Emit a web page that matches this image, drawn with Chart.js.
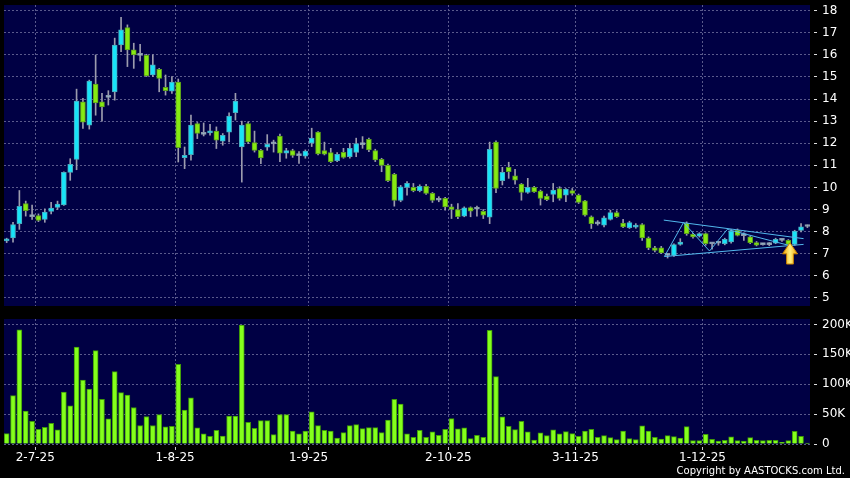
<!DOCTYPE html>
<html><head><meta charset="utf-8">
<script src="https://cdn.jsdelivr.net/npm/chart.js@4.4.0/dist/chart.umd.min.js"></script>
<style>
html,body{margin:0;padding:0;background:#000;width:850px;height:478px;overflow:hidden}
#pc{position:absolute;left:0;top:0}
#vc{position:absolute;left:0;top:308px}
#copy{position:absolute;right:5px;top:465px;color:#fff;font:10px "DejaVu Sans";line-height:12px;white-space:nowrap}
</style></head><body>
<canvas id="pc" width="850" height="308"></canvas>
<canvas id="vc" width="850" height="170"></canvas>
<div id="copy">Copyright by AASTOCKS.com Ltd.</div>
<script>
// ---- data (one entry per trading day, 25-6-25 .. 23-12-25) ----
const openP = [7.58,7.71,8.36,9.27,8.70,8.73,8.55,8.91,9.09,9.21,10.68,11.27,13.88,12.82,14.68,13.88,14.10,14.32,16.45,17.24,
16.23,16.00,15.98,15.09,15.35,14.53,14.36,14.77,11.35,11.48,12.89,12.42,12.47,12.55,12.09,12.50,13.38,11.83,12.89,12.03,
11.68,11.82,11.98,12.33,11.55,11.67,11.45,11.41,12.00,12.50,11.67,11.58,11.21,11.59,11.39,11.58,11.95,12.18,11.67,11.27,
11.00,10.59,9.41,10.00,10.00,9.85,10.05,9.73,9.43,9.50,9.12,9.00,8.70,9.09,9.03,8.92,8.65,12.05,10.30,10.91,
10.52,10.15,9.77,10.00,9.83,9.61,9.68,9.95,9.65,9.86,9.65,9.39,8.67,8.37,8.29,8.55,8.86,8.39,8.18,8.20,
8.32,7.71,7.26,7.26,6.93,6.92,7.42,8.39,7.88,7.79,7.91,7.46,7.47,7.45,7.53,8.06,7.84,7.76,7.50,7.43,
7.41,7.48,7.60,7.60,7.42,8.05,8.23];
const highP = [7.70,8.42,9.86,9.38,9.20,8.80,9.03,9.33,9.38,10.70,11.30,14.45,14.03,14.86,16.00,14.26,14.38,16.76,17.70,17.36,
16.53,16.48,16.03,16.00,15.39,15.09,15.02,14.91,11.83,13.27,12.94,12.92,12.86,12.74,12.44,13.38,14.26,13.00,12.97,12.55,
11.73,12.39,12.14,12.42,11.77,11.73,11.62,11.70,12.68,12.53,12.05,11.77,11.58,11.77,12.00,12.23,12.30,12.23,11.73,11.32,
11.06,10.64,10.09,10.26,10.18,10.12,10.14,9.77,9.58,9.55,9.24,9.27,9.12,9.12,9.15,9.00,12.05,12.11,10.91,11.14,
10.82,10.18,10.41,10.05,9.88,9.70,10.18,10.03,9.95,9.95,9.70,9.42,8.71,8.50,8.70,8.97,8.94,8.55,8.47,8.36,
8.36,7.76,7.33,7.33,7.00,7.45,7.68,8.44,7.92,7.95,7.94,7.50,7.55,7.70,8.09,8.12,7.94,7.80,7.55,7.47,
7.50,7.70,7.64,7.64,8.06,8.36,8.30];
const lowP = [7.50,7.52,8.10,8.70,8.55,8.45,8.42,8.80,9.00,9.18,10.32,10.80,12.67,12.64,13.27,13.00,13.73,13.95,16.15,15.47,
15.39,15.73,15.02,15.02,14.33,14.18,14.26,11.15,10.85,11.23,12.21,12.33,12.36,11.76,11.91,12.06,13.05,10.24,11.98,11.60,
11.08,11.68,11.60,11.17,11.32,11.36,11.09,11.32,11.85,11.47,11.47,11.12,11.17,11.32,11.32,11.39,11.77,11.62,11.17,10.71,
10.26,9.15,9.35,9.65,9.80,9.80,9.68,9.32,9.35,8.97,8.59,8.59,8.67,8.67,8.70,8.59,8.36,9.76,10.11,10.41,
10.15,9.42,9.73,9.77,9.20,9.40,9.35,9.42,9.35,9.65,9.27,8.70,8.14,8.29,8.21,8.52,8.64,8.18,8.14,8.15,
7.60,7.18,7.08,7.00,6.80,6.88,7.38,7.83,7.70,7.75,7.38,7.20,7.38,7.40,7.48,7.80,7.60,7.45,7.35,7.38,
7.36,7.45,7.55,7.38,7.38,7.98,8.18];
const closeP = [7.62,8.32,9.14,8.95,8.68,8.50,8.88,9.06,9.24,10.68,11.05,13.91,12.95,14.82,13.83,13.64,14.08,16.45,17.14,16.23,
16.00,15.98,15.05,15.55,14.94,14.38,14.77,11.80,11.45,12.82,12.44,12.40,12.55,12.14,12.36,13.23,13.91,12.82,12.06,11.68,
11.33,11.95,11.97,11.55,11.67,11.45,11.44,11.64,12.23,11.52,11.50,11.17,11.50,11.36,11.77,11.98,11.94,11.70,11.24,11.00,
10.30,9.41,10.03,10.18,9.85,10.05,9.73,9.41,9.42,9.12,9.00,8.67,9.08,8.92,9.01,8.74,11.73,9.95,10.68,10.71,
10.33,9.77,10.00,9.80,9.50,9.45,9.88,9.50,9.91,9.73,9.32,8.74,8.36,8.35,8.62,8.86,8.67,8.21,8.41,8.28,
7.71,7.26,7.15,7.03,6.92,7.41,7.53,7.91,7.76,7.91,7.45,7.44,7.49,7.65,8.02,7.83,7.82,7.50,7.38,7.41,
7.43,7.65,7.61,7.42,8.02,8.22,8.24];
// volume in thousands of shares
const volumeK = [17.4,81,191,55,38,24.6,28,34.7,23.5,87,64,162,107,92,156,74.5,42,121,86,82,
61,31,46,31,49,28.6,29.7,133,56.6,77,27,16.8,12.9,23,13.4,46.5,46.5,199,36.4,26.3,
39,39,15.7,49,49,21.8,16.8,21.8,53.8,30.8,23,21.8,10,19,30.8,32.5,25.8,27.4,27.4,19,
39.8,74.5,66.7,16.8,11.2,23,11.2,20.2,14.6,24.6,42.6,25.2,27,9,14.6,11.2,190,112.6,45.4,29.7,
24,38,20.2,6.7,18.5,14,23.5,16.8,20.7,17.4,12.9,21.8,24.6,11.2,14,10.6,7.3,21.8,9,7.3,
30.2,21.8,11.2,8.4,14,12.3,10,29,5.6,5.6,16.2,7.8,5,6.2,11.8,5.6,5,10.6,6.2,5.6,
6.2,6.2,2.8,5.6,21.3,12.9,1.7];
const tickIdx = [4, 26, 47, 69, 89, 109];
const tickLabels = ['2-7-25', '1-8-25', '1-9-25', '2-10-25', '3-11-25', '1-12-25'];
const priceTicks = {min: 4.63, max: 18.26, step: 1};
const volTicks = {min: 0, max: 209, step: 50};
// drawn pattern lines (index, price)
const trendUpper = [{x:103.4,y:8.52},{x:125.4,y:7.68}];
const trendLower = [{x:103.5,y:6.87},{x:125.4,y:7.42}];
const trendZig = [{x:103.5,y:6.87},{x:106.5,y:8.41},{x:110.6,y:7.12},{x:113.4,y:8.10},{x:123.3,y:7.36}];
const arrowMark = {x:123.26, tip:7.49, base:6.53};

// ---- styles ----
const NAVY = '#000044';
const GRID = '#5a5a8c';
const FONT = {family: 'DejaVu Sans', size: 12};
const X_MIN = -0.42, X_MAX = 126.41;

const bgPlugin = {id:'bg', beforeDraw(chart){
  const {ctx, chartArea:a} = chart;
  ctx.save(); ctx.fillStyle = NAVY; ctx.fillRect(a.left, a.top, a.right-a.left, a.bottom-a.top); ctx.restore();
}};
const arrowPlugin = {id:'arrow', afterDatasetsDraw(chart){
  const ctx = chart.ctx, xs = chart.scales.x, ys = chart.scales.y;
  const cx = xs.getPixelForValue(arrowMark.x), tip = ys.getPixelForValue(arrowMark.tip), base = ys.getPixelForValue(arrowMark.base);
  const hw = 7.5, sw = 3.4, hh = 11;
  ctx.save();
  ctx.beginPath();
  ctx.moveTo(cx, tip); ctx.lineTo(cx+hw, tip+hh); ctx.lineTo(cx+sw, tip+hh); ctx.lineTo(cx+sw, base);
  ctx.lineTo(cx-sw, base); ctx.lineTo(cx-sw, tip+hh); ctx.lineTo(cx-hw, tip+hh); ctx.closePath();
  const g = ctx.createLinearGradient(cx-hw, 0, cx+hw, 0);
  g.addColorStop(0, '#f0a000'); g.addColorStop(0.5, '#fff080'); g.addColorStop(1, '#f0a000');
  ctx.fillStyle = g; ctx.fill();
  ctx.lineWidth = 1; ctx.strokeStyle = '#c88000'; ctx.stroke();
  ctx.restore();
}};

function kind(i){ const d = closeP[i]-openP[i]; return Math.abs(d) < 0.04 ? 0 : (d > 0 ? 1 : -1); }
const FILL = {'1':'#18e4f8','-1':'#86ea12','0':'#98b8cc'};
const EDGE = {'1':'#4aaabf','-1':'#5a9e1c','0':'#8a98a8'};

function xAxis(showLabels){
  return {
    type:'linear', min:X_MIN, max:X_MAX, offset:false,
    afterBuildTicks: s => { s.ticks = tickIdx.map(v => ({value: v + 0.5})); },
    afterFit: s => { s.height = showLabels ? 34 : 0; s.paddingLeft = 0; s.paddingRight = 0; },
    ticks:{display:showLabels, autoSkip:false, maxRotation:0, color:'#fff', font:FONT, padding:1,
      callback:(v,i)=>tickLabels[i]},
    grid:{color:GRID, offset:false, drawTicks:showLabels, tickLength:6, tickColor:'#cccccc', tickBorderDash:[0,3,3,20]},
    border:{display:false, dash:[2,2]}
  };
}
function yAxis(t, fmt){
  return {
    position:'right', min:t.min, max:t.max,
    afterFit: s => { s.width = 40; s.paddingTop = 0; s.paddingBottom = 0; },
    ticks:{stepSize:t.step, includeBounds:false, color:'#fff', font:FONT, padding:5, callback:fmt},
    grid:{color:GRID, tickLength:7, tickColor:'#dddddd', tickBorderDash:[0,4,3,20]},
    border:{display:false, dash:[2,2]}
  };
}
const common = {responsive:false, animation:false, events:[],
  plugins:{legend:{display:false}, tooltip:{enabled:false}}};

const lineDs = pts => ({type:'line', data:pts, borderColor:'#52b8ec', borderWidth:1, pointRadius:0, order:0, tension:0});

new Chart(document.getElementById('pc'), {
  type:'bar',
  data:{datasets:[
    {data: lowP.map((l,i)=>({x:i, y:[l, highP[i]]})), barThickness:1, backgroundColor:'#9c9cae', borderWidth:0, grouped:false, order:3},
    {data: openP.map((o,i)=>({x:i, y:[o, closeP[i]]})), barThickness:5, borderWidth:1, borderSkipped:false, minBarLength:2, grouped:false, order:2,
      backgroundColor: c => FILL[kind(c.dataIndex)], borderColor: c => EDGE[kind(c.dataIndex)]},
    lineDs(trendUpper), lineDs(trendLower), lineDs(trendZig)
  ]},
  options:{...common, layout:{padding:{left:4, top:5, right:0, bottom:2}},
    scales:{x:xAxis(false), y:yAxis(priceTicks, v => v)}},
  plugins:[bgPlugin, arrowPlugin]
});

new Chart(document.getElementById('vc'), {
  type:'bar',
  data:{datasets:[
    {data: volumeK.map((v,i)=>({x:i, y:v})), barThickness:5, borderWidth:1, borderSkipped:'bottom',
      backgroundColor:'#84ff1c', borderColor:'#3f9a08', grouped:false}
  ]},
  options:{...common, layout:{padding:{left:4, top:11, right:0, bottom:0}},
    scales:{x:xAxis(true), y:yAxis(volTicks, v => v === 0 ? '0' : v + 'K')}},
  plugins:[bgPlugin]
});
</script>
</body></html>
